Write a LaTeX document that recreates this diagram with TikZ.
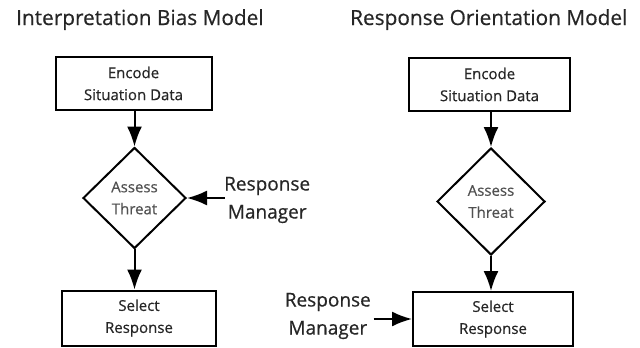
\documentclass[tikz,border=0pt]{standalone}
\usepackage{fontspec}
\setmainfont{Open Sans}[FakeBold=0.5]
\usetikzlibrary{shapes.geometric,arrows.meta}
\definecolor{ink}{HTML}{262626}
\tikzset{
  stepbox/.style={draw=black, line width=2pt, rectangle, inner sep=0pt,
    align=center, text=ink, font=\fontsize{15}{22}\selectfont},
  decide/.style={draw=black, line width=2pt, diamond, inner sep=0pt,
    align=center, text=ink!80, font=\fontsize{15}{22}\selectfont},
  title/.style={text=ink, font=\fontsize{20.8}{24}\selectfont, anchor=base west, inner sep=0pt},
  agent/.style={text=ink, align=center, font=\fontsize{19}{28}\selectfont, inner sep=0pt},
  flow/.style={draw=black, line width=2pt,
    -{Latex[length=20pt, width=15pt]}, shorten <=-0.5pt}
}
\begin{document}
\begin{tikzpicture}[x=1pt, y=-1pt]
\useasboundingbox (0,0) rectangle (640,348);

% Interpretation bias model
\node[title] (t1) at (16,25) {Interpretation Bias Model};
\node[stepbox, minimum width=156pt, minimum height=53pt] (enc1) at (133.5,83.5) {Encode\\Situation Data};
\node[decide, minimum width=103pt, minimum height=101pt] (d1) at (134.5,198) {Assess\\Threat};
\node[stepbox, minimum width=154pt, minimum height=55pt] (sel1) at (139,318) {Select\\Response};
\node[agent, anchor=west] (rm1) at (224,200) {Response\\Manager};

\draw[flow] (enc1.south -| d1.north) -- (d1.north);
\draw[flow] (d1.south) -- (d1.south |- sel1.north);
\draw[flow] (rm1.west |- d1.east) -- (d1.east);

% Response orientation model
\node[title] (t2) at (350,25) {Response Orientation Model};
\node[stepbox, minimum width=161pt, minimum height=53pt] (enc2) at (489.5,84.5) {Encode\\Situation Data};
\node[decide, minimum width=108pt, minimum height=107pt] (d2) at (491,201.5) {Assess\\Threat};
\node[stepbox, minimum width=160pt, minimum height=54pt] (sel2) at (493,319) {Select\\Response};
\node[agent, anchor=east] (rm2) at (371,316) {Response\\Manager};

\draw[flow] (enc2.south -| d2.north) -- (d2.north);
\draw[flow] (d2.south) -- (d2.south |- sel2.north);
\draw[flow] ([xshift=3pt]rm2.east |- sel2.west) -- (sel2.west);
\end{tikzpicture}
\end{document}
